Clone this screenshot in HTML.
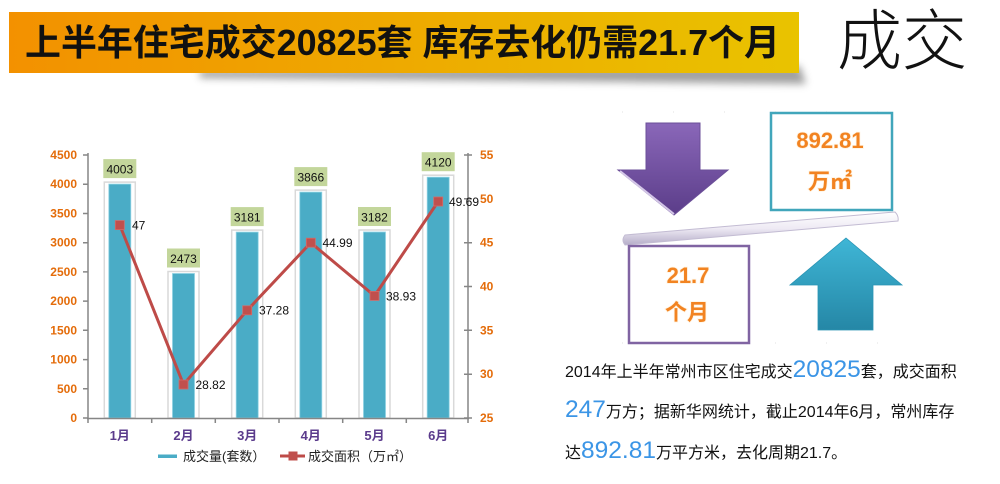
<!DOCTYPE html>
<html><head><meta charset="utf-8"><style>
html,body{margin:0;padding:0;background:#fff;}
svg{display:block;}
text{font-family:"Liberation Sans","Noto Sans CJK SC",sans-serif;}
</style></head><body>
<svg width="1000" height="484" viewBox="0 0 1000 484" xmlns="http://www.w3.org/2000/svg">
<defs>
<linearGradient id="ban" x1="0" y1="0" x2="1" y2="0">
<stop offset="0" stop-color="#f39100"/><stop offset="1" stop-color="#e9c300"/>
</linearGradient>
<filter id="blur" x="-20%" y="-100%" width="140%" height="300%"><feGaussianBlur stdDeviation="4"/></filter>
<filter id="sblur" x="-20%" y="-20%" width="140%" height="140%"><feGaussianBlur stdDeviation="1.2"/></filter>
<linearGradient id="pur" x1="0" y1="0" x2="0" y2="1">
<stop offset="0" stop-color="#8a67b9"/><stop offset="1" stop-color="#5b3d89"/>
</linearGradient>
<linearGradient id="tea" x1="0" y1="0" x2="0" y2="1">
<stop offset="0" stop-color="#3fb6d6"/><stop offset="1" stop-color="#2587a6"/>
</linearGradient>
<linearGradient id="beam" x1="0" y1="0" x2="0" y2="1">
<stop offset="0" stop-color="#ffffff"/><stop offset="0.5" stop-color="#eeeaf4"/><stop offset="1" stop-color="#b5adc8"/>
</linearGradient>
</defs>

<!-- banner -->
<path d="M200 70 L800 66 L806 84 L200 78 Z" fill="#555" opacity="0.55" filter="url(#blur)"/>
<rect x="9" y="12" width="790" height="61" fill="url(#ban)"/>
<text x="25" y="55" font-size="36" font-weight="bold" fill="#111" textLength="755" lengthAdjust="spacingAndGlyphs">上半年住宅成交20825套 库存去化仍需21.7个月</text>
<text x="837" y="64" font-size="66" font-weight="300" fill="#111" textLength="130" lengthAdjust="spacingAndGlyphs">成交</text>

<!-- chart frames and bars -->
<g>
<rect x="104.3" y="182.1" width="31" height="235.9" fill="#fff" stroke="#d9d9d9" stroke-width="1.5"/>
<rect x="108.8" y="184.1" width="22" height="233.9" fill="#4aacc6" stroke="#8fd3e3" stroke-width="0.8"/>
<rect x="168" y="271.5" width="31" height="146.5" fill="#fff" stroke="#d9d9d9" stroke-width="1.5"/>
<rect x="172.5" y="273.5" width="22" height="144.5" fill="#4aacc6" stroke="#8fd3e3" stroke-width="0.8"/>
<rect x="231.7" y="230.1" width="31" height="187.9" fill="#fff" stroke="#d9d9d9" stroke-width="1.5"/>
<rect x="236.2" y="232.1" width="22" height="185.9" fill="#4aacc6" stroke="#8fd3e3" stroke-width="0.8"/>
<rect x="295.3" y="190.1" width="31" height="227.9" fill="#fff" stroke="#d9d9d9" stroke-width="1.5"/>
<rect x="299.8" y="192.1" width="22" height="225.9" fill="#4aacc6" stroke="#8fd3e3" stroke-width="0.8"/>
<rect x="359" y="230" width="31" height="188" fill="#fff" stroke="#d9d9d9" stroke-width="1.5"/>
<rect x="363.5" y="232" width="22" height="186" fill="#4aacc6" stroke="#8fd3e3" stroke-width="0.8"/>
<rect x="422.7" y="175.2" width="31" height="242.8" fill="#fff" stroke="#d9d9d9" stroke-width="1.5"/>
<rect x="427.2" y="177.2" width="22" height="240.8" fill="#4aacc6" stroke="#8fd3e3" stroke-width="0.8"/>
</g>

<!-- bar labels -->
<g font-size="12" fill="#111" text-anchor="middle">
<rect x="103.3" y="159.1" width="33" height="19" fill="#c3d69b"/><text x="119.8" y="173.5">4003</text>
<rect x="167" y="248.5" width="33" height="19" fill="#c3d69b"/><text x="183.5" y="262.9">2473</text>
<rect x="230.7" y="207.1" width="33" height="19" fill="#c3d69b"/><text x="247.2" y="221.5">3181</text>
<rect x="294.3" y="167.1" width="33" height="19" fill="#c3d69b"/><text x="310.8" y="181.5">3866</text>
<rect x="358" y="207" width="33" height="19" fill="#c3d69b"/><text x="374.5" y="221.4">3182</text>
<rect x="421.7" y="152.2" width="33" height="19" fill="#c3d69b"/><text x="438.2" y="166.6">4120</text>
</g>

<!-- axes -->
<g stroke="#868686" stroke-width="1.5" fill="none">
<line x1="88" y1="153" x2="88" y2="419"/>
<line x1="468" y1="153" x2="468" y2="419"/>
<line x1="87" y1="418.5" x2="469" y2="418.5"/>
<path d="M83 418H88M83 388.8H88M83 359.6H88M83 330.3H88M83 301.1H88M83 271.9H88M83 242.7H88M83 213.5H88M83 184.2H88M83 155H88"/>
<path d="M464 418H472M464 374.2H472M464 330.3H472M464 286.5H472M464 242.7H472M464 198.8H472M464 155H472"/>
<path d="M88 418V423M151.7 418V423M215.3 418V423M279 418V423M342.7 418V423M406.3 418V423M468 418V423"/>
</g>

<!-- left tick labels -->
<g font-size="12" font-weight="bold" fill="#e46c0a" text-anchor="end">
<text x="77" y="422">0</text>
<text x="77" y="392.8">500</text>
<text x="77" y="363.6">1000</text>
<text x="77" y="334.3">1500</text>
<text x="77" y="305.1">2000</text>
<text x="77" y="275.9">2500</text>
<text x="77" y="246.7">3000</text>
<text x="77" y="217.5">3500</text>
<text x="77" y="188.2">4000</text>
<text x="77" y="159">4500</text>
</g>
<g font-size="12" font-weight="bold" fill="#e46c0a">
<text x="480" y="422">25</text>
<text x="480" y="378.2">30</text>
<text x="480" y="334.3">35</text>
<text x="480" y="290.5">40</text>
<text x="480" y="246.7">45</text>
<text x="480" y="202.8">50</text>
<text x="480" y="159">55</text>
</g>

<!-- categories -->
<g font-size="13" font-weight="bold" fill="#5b3b8c" text-anchor="middle">
<text x="119.8" y="440">1月</text>
<text x="183.5" y="440">2月</text>
<text x="247.2" y="440">3月</text>
<text x="310.8" y="440">4月</text>
<text x="374.5" y="440">5月</text>
<text x="438.2" y="440">6月</text>
</g>

<!-- line series -->
<polyline points="119.8,225.1 183.5,384.5 247.2,310.3 310.8,242.7 374.5,295.9 438.2,201.5" fill="none" stroke="#be4b48" stroke-width="3" stroke-linejoin="round"/>
<g fill="#c0504d" stroke="#d46a67" stroke-width="0.8">
<rect x="115.3" y="220.6" width="9" height="9"/>
<rect x="179" y="380" width="9" height="9"/>
<rect x="242.7" y="305.8" width="9" height="9"/>
<rect x="306.3" y="238.2" width="9" height="9"/>
<rect x="370" y="291.4" width="9" height="9"/>
<rect x="433.7" y="197" width="9" height="9"/>
</g>
<g font-size="12" fill="#111">
<text x="132" y="229.5">47</text>
<text x="195.5" y="389">28.82</text>
<text x="259" y="314.7">37.28</text>
<text x="322.5" y="247.1">44.99</text>
<text x="386" y="300.3">38.93</text>
<text x="449" y="205.9">49.69</text>
</g>

<!-- legend -->
<rect x="158" y="454.5" width="19" height="3.5" fill="#4aacc6"/>
<text x="183" y="461" font-size="13" fill="#222">成交量(套数）</text>
<line x1="280" y1="456" x2="305" y2="456" stroke="#be4b48" stroke-width="3"/>
<rect x="288.5" y="451.5" width="9" height="9" fill="#c0504d"/>
<text x="308" y="461" font-size="13" fill="#222">成交面积（万㎡）</text>

<!-- right graphics -->
<g fill="none" stroke="#e0e0e0" stroke-width="1" stroke-dasharray="1 50">
<line x1="622" y1="112" x2="906" y2="112"/>
<line x1="622" y1="343" x2="906" y2="343"/>
</g>
<polygon points="646,123 700,123 700,170 728,170 674,215 618,170 646,170" fill="url(#pur)" stroke="#6b4f98" stroke-width="1"/>
<polyline points="620,171 674,214" fill="none" stroke="#efe6fb" stroke-width="2" opacity="0.8"/>
<rect x="771" y="113" width="121" height="97" fill="#fff" stroke="#41a6bb" stroke-width="2.5"/>
<path d="M625 235 L895 212 Q899 216 898 221 L625 245 Q621 240 625 235 Z" fill="url(#beam)" stroke="#c3bcd3" stroke-width="1"/>
<rect x="629" y="246" width="120" height="97" fill="#fff" stroke="#8064a2" stroke-width="2.5"/>
<polygon points="846,238 902,285 873,285 873,330 818,330 818,285 790,285" fill="url(#tea)" stroke="#2a94b4" stroke-width="0.8"/>

<g font-size="22" font-weight="bold" fill="#f28321" text-anchor="middle" stroke="#fff3e0" stroke-width="1.5" paint-order="stroke">
<text x="830" y="148">892.81</text>
<text x="830" y="189">万㎡</text>
<text x="688" y="283">21.7</text>
<text x="687" y="320">个月</text>
</g>

<!-- description text -->
<g font-size="16" fill="#111">
<text x="565" y="377">2014年上半年常州市区住宅成交<tspan font-size="24.5" fill="#3b95e6">20825</tspan>套，成交面积</text>
<text x="565" y="417"><tspan font-size="24.5" fill="#3b95e6">247</tspan>万方；据新华网统计，截止2014年6月，常州库存</text>
<text x="565" y="458">达<tspan font-size="24.5" fill="#3b95e6">892.81</tspan>万平方米，去化周期21.7。</text>
</g>
</svg>
</body></html>
